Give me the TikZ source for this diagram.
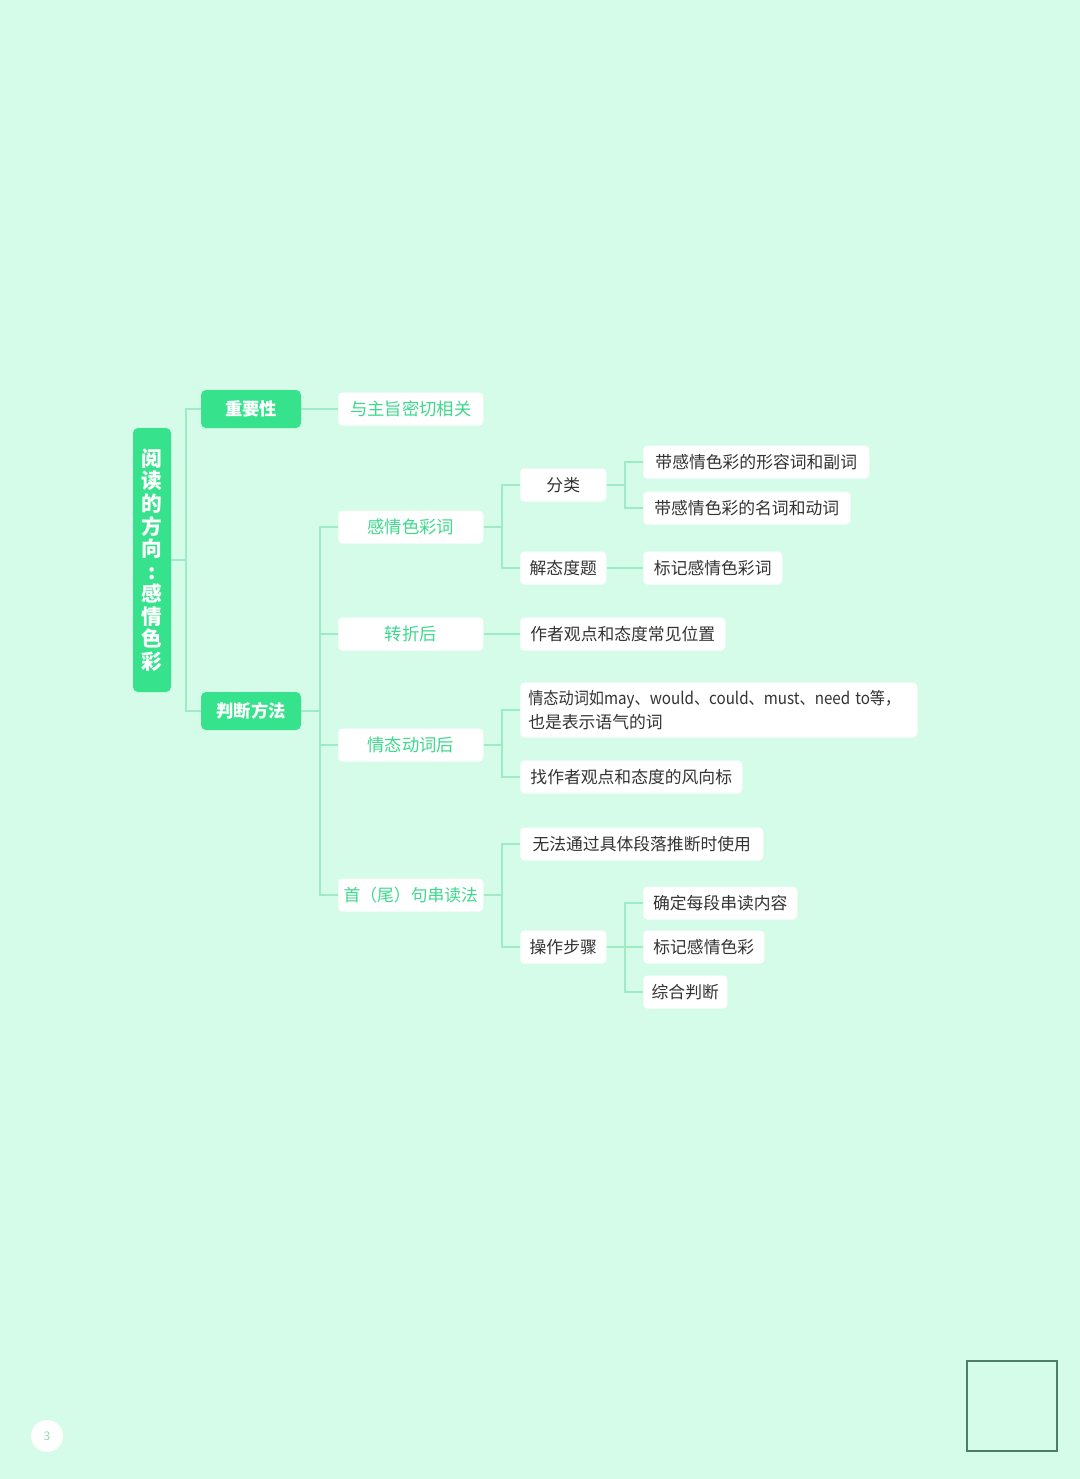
\documentclass[tikz,border=0pt]{standalone}
\usepackage{fontspec}
\usepackage{graphicx}
\setmainfont{Noto Sans CJK SC}
\newdimen\px \px=0.75pt
\definecolor{bg}{HTML}{D4FCE8}
\definecolor{gr}{HTML}{36E28C}
\definecolor{gt}{HTML}{3DD98C}
\definecolor{ln}{HTML}{9EEBC6}
\definecolor{tx}{HTML}{333333}
\definecolor{fr}{HTML}{4E7D66}
\tikzset{
  greenbox/.style={fill=gr, text=white, rounded corners=5\px, inner sep=0pt, minimum height=38\px, font=\bfseries\fontsize{13}{15}\selectfont},
  wbox/.style={fill=white, rounded corners=4\px, inner sep=0pt, minimum height=33\px, anchor=west, text=tx, font=\fontsize{12.6}{16}\selectfont},
  gbox/.style={wbox, text=gt, font=\fontsize{13}{16}\selectfont},
  conn/.style={draw=ln, line width=1.3\px},
}
\begin{document}
\begin{tikzpicture}[x=1\px, y=-1\px]
\useasboundingbox (0,0) rectangle (1080,1479);
\fill[bg] (0,0) rectangle (1080,1479);

% root
\node[greenbox, minimum width=38\px, minimum height=264\px, align=center, font=\bfseries\fontsize{15.5}{16.9}\selectfont] (root) at (152,560) {阅\\读\\的\\方\\向\\:\\感\\情\\色\\彩};
\node[greenbox, minimum width=100\px] (imp) at (251,409) {重要性};
\node[greenbox, minimum width=100\px] (pd) at (251,711) {判断方法};

\node[gbox, minimum width=145\px] (imp1) at (338,409) {与主旨密切相关};
\node[gbox, minimum width=145\px] (gc) at (338,527) {感情色彩词};
\node[gbox, minimum width=145\px] (zz) at (338,634) {转折后};
\node[gbox, minimum width=145\px] (qt) at (338,745) {情态动词后};
\node[gbox, minimum width=145\px, font=\fontsize{12.6}{16}\selectfont] (sw) at (338,895) {首（尾）句串读法};

\node[wbox, minimum width=86\px] (fl) at (520,485) {分类};
\node[wbox, minimum width=86\px] (jt) at (520,568) {解态度题};
\node[wbox, minimum width=226\px] (fl1) at (643,462) {带感情色彩的形容词和副词};
\node[wbox, minimum width=207\px] (fl2) at (643,508) {带感情色彩的名词和动词};
\node[wbox, minimum width=139\px] (jt1) at (643,568) {标记感情色彩词};
\node[wbox, minimum width=205\px] (zz1) at (520,634) {作者观点和态度常见位置};
\node[wbox, minimum width=397\px, minimum height=55\px, align=left, text width=381\px, inner xsep=8\px, font=\fontsize{12.6}{17.5}\selectfont] (qt1) at (520,710) {\resizebox{372\px}{\height}{情态动词如may、would、could、must、need to等，}\\也是表示语气的词};
\node[wbox, minimum width=222\px] (qt2) at (520,777) {找作者观点和态度的风向标};
\node[wbox, minimum width=243\px] (sw1) at (520,844) {无法通过具体段落推断时使用};
\node[wbox, minimum width=86\px] (cz) at (520,947) {操作步骤};
\node[wbox, minimum width=154\px] (cz1) at (643,903) {确定每段串读内容};
\node[wbox, minimum width=121\px] (cz2) at (643,947) {标记感情色彩};
\node[wbox, minimum width=84\px] (cz3) at (643,992) {综合判断};

% buses
\coordinate (b0) at (186,560);
\coordinate (b1) at (320,711);
\coordinate (b2) at (502,527);
\coordinate (b3) at (625,485);
\coordinate (b4) at (502,745);
\coordinate (b5) at (502,895);
\coordinate (b6) at (625,947);

\draw[conn] (root.east) -- (b0) |- (imp.west);
\draw[conn] (b0) |- (pd.west);
\draw[conn] (imp.east) -- (imp1.west);
\draw[conn] (pd.east) -- (b1) |- (gc.west);
\draw[conn] (b1) |- (zz.west);
\draw[conn] (b1) |- (qt.west);
\draw[conn] (b1) |- (sw.west);
\draw[conn] (gc.east) -- (b2) |- (fl.west);
\draw[conn] (b2) |- (jt.west);
\draw[conn] (fl.east) -- (b3) |- (fl1.west);
\draw[conn] (b3) |- (fl2.west);
\draw[conn] (jt.east) -- (jt1.west);
\draw[conn] (zz.east) -- (zz1.west);
\draw[conn] (qt.east) -- (b4) |- (qt1.west);
\draw[conn] (b4) |- (qt2.west);
\draw[conn] (sw.east) -- (b5) |- (sw1.west);
\draw[conn] (b5) |- (cz.west);
\draw[conn] (cz.east) -- (b6) |- (cz1.west);
\draw[conn] (b6) |- (cz2.west);
\draw[conn] (b6) |- (cz3.west);

% page number and frame
\node[circle, fill=white, minimum size=32\px, inner sep=0pt, text=ln!80!gray, font=\fontsize{9}{10}\selectfont] (pg) at (47,1436) {3};
\draw[fr, line width=1.2\px] (967,1361) rectangle (1057,1451);
\end{tikzpicture}
\end{document}
